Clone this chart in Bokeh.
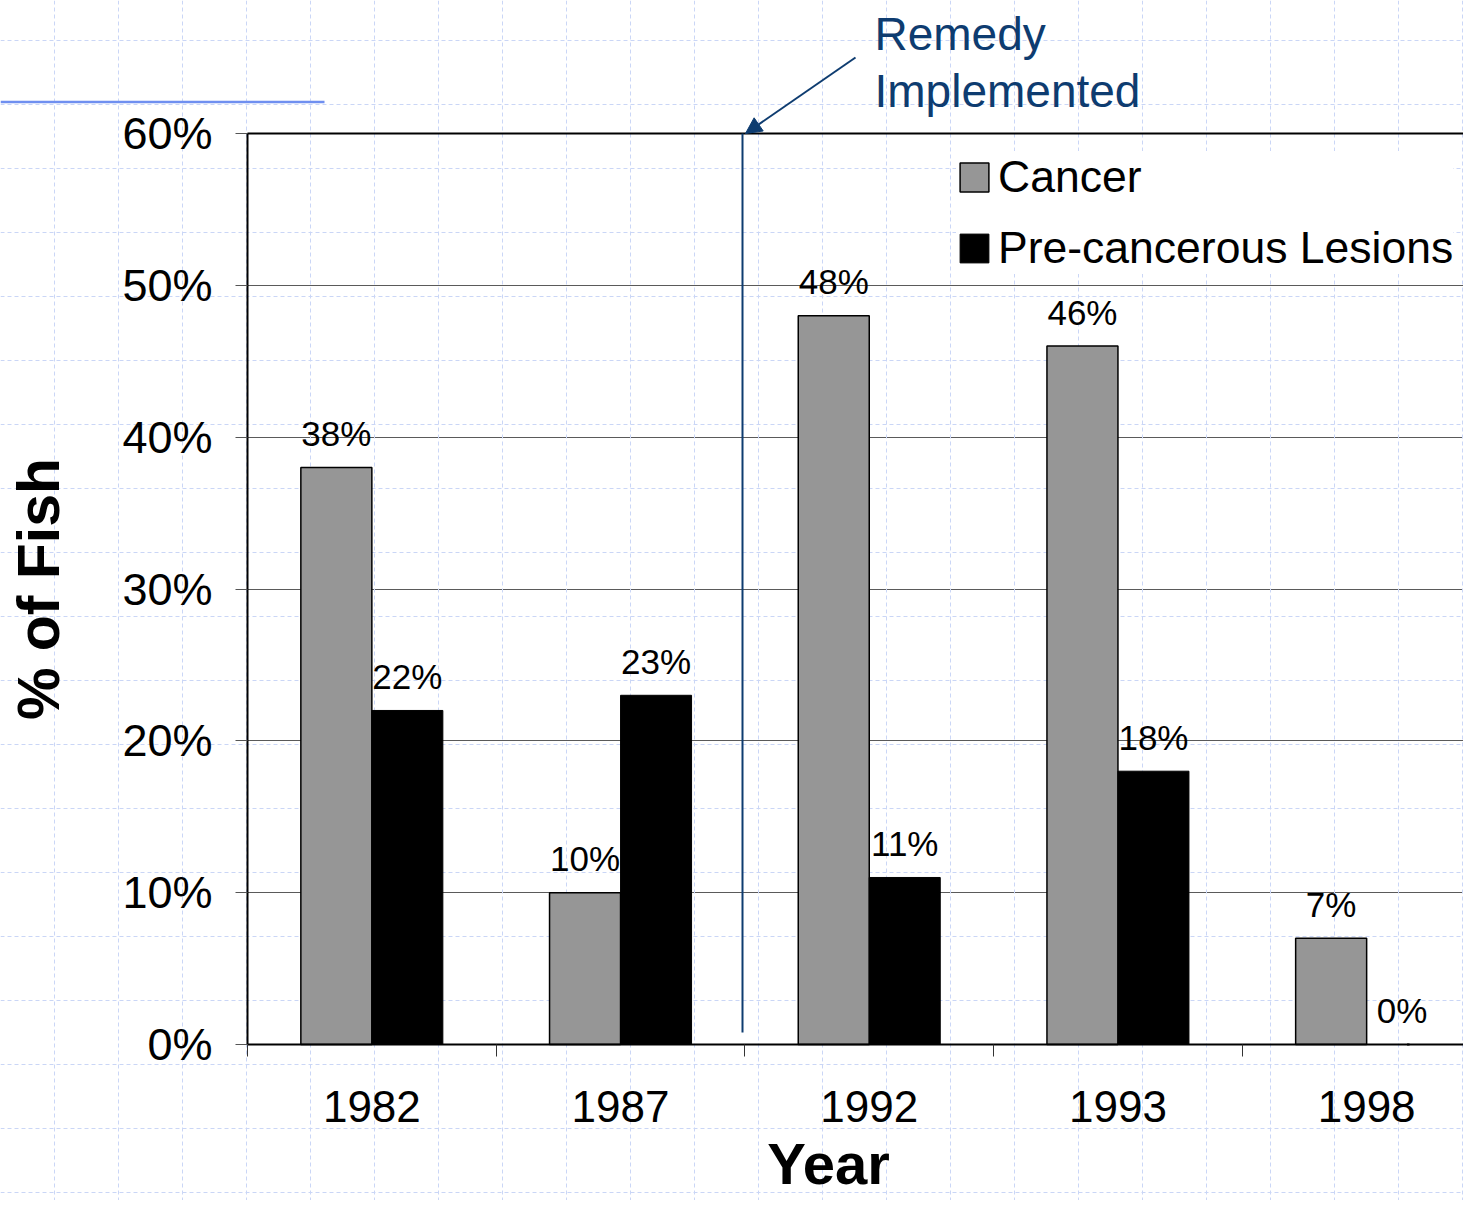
from bokeh.plotting import figure
from bokeh.models import Range1d, FixedTicker, Label, Arrow, NormalHead, ColumnDataSource
from bokeh.core.properties import value
from bokeh.embed import file_html
from bokeh.resources import INLINE

# ---- data ----
years = ["1982", "1987", "1992", "1993", "1998"]
cancer = [38, 10, 48, 46, 7]
lesions = [22, 23, 11, 18, 0]
y_ticks = [0, 10, 20, 30, 40, 50, 60]
y_tick_labels = ["0%", "10%", "20%", "30%", "40%", "50%", "60%"]

# ---- layout (pixels) ----
W, H = 1463, 1200
PX_X0 = 247      # pixel of x = 0 (left axis)
PX_Y0 = 1044     # pixel of y = 0 (bottom axis)
PX_YTOP = 133    # pixel of y = 60
CAT_PX = 248.7   # pixel width of one category
Y_MAX = 60
YPX = (PX_Y0 - PX_YTOP) / Y_MAX
NAVY = "#0e3c70"
GRID_C = "#cad6f6"
FONT = "Liberation Sans"


def dx(px):  # canvas x pixel -> data x
    return (px - PX_X0) / CAT_PX


def dy(py):  # canvas y pixel -> data y
    return (PX_Y0 - py) / YPX


X_END = dx(W)

p = figure(width=W, height=H, x_range=Range1d(dx(0), X_END), y_range=Range1d(dy(H), dy(0)),
           output_backend="svg", toolbar_location=None, title=None,
           min_border_left=0, min_border_right=0, min_border_top=0, min_border_bottom=0)
p.outline_line_color = None
p.background_fill_color = "white"
p.border_fill_color = "white"
p.xgrid.visible = False

# background slide grid (drawn first, underneath everything)
for X in range(54, 1480, 64):
    p.add_layout(Arrow(end=None, x_start=dx(X), y_start=dy(0), x_end=dx(X), y_end=dy(1216),
                       line_color=GRID_C, line_width=1, line_dash="4 3", level="underlay"))
for Y in range(40, 1217, 64):
    p.add_layout(Arrow(end=None, x_start=dx(0), y_start=dy(Y), x_end=dx(1479), y_end=dy(Y),
                       line_color=GRID_C, line_width=1, line_dash="4 3", level="underlay"))

# horizontal value grid lines
g = p.ygrid[0]
g.ticker = FixedTicker(ticks=y_ticks[1:-1])
g.grid_line_color = "#5a5a5a"
g.grid_line_width = 1
if "cross_bounds" in g.properties():
    g.cross_bounds = (0, X_END)
else:
    g.visible = False
    for t in y_ticks[1:-1]:
        p.add_layout(Arrow(end=None, x_start=0, y_start=t, x_end=X_END, y_end=t,
                           line_color="#5a5a5a", line_width=1, level="underlay"))

# y axis
p.yaxis.fixed_location = 0
p.yaxis.bounds = (0, Y_MAX)
p.yaxis.ticker = FixedTicker(ticks=y_ticks)
p.yaxis.major_label_overrides = dict(zip(y_ticks, y_tick_labels))
p.yaxis.axis_line_color = "black"
p.yaxis.axis_line_width = 2
p.yaxis.major_tick_out = 12
p.yaxis.major_tick_in = 0
p.yaxis.major_tick_line_color = "#555555"
p.yaxis.minor_tick_line_color = None
p.yaxis.major_label_text_font = FONT
p.yaxis.major_label_text_font_size = "45px"
p.yaxis.major_label_text_color = "black"
p.yaxis.major_label_standoff = 23
p.yaxis.axis_label = "% of Fish"
p.yaxis.axis_label_text_font = FONT
p.yaxis.axis_label_text_font_size = "59px"
p.yaxis.axis_label_text_font_style = "bold"
p.yaxis.axis_label_text_color = "black"
p.yaxis.axis_label_standoff = 47

# x axis (bounds chosen so that the title sits where the reference has it;
# the rest of the axis line is continued below)
xc = [i + 0.5 for i in range(len(years))]
X_AXIS_END = 2 * dx(828)
p.xaxis.fixed_location = 0
p.xaxis.bounds = (0, X_AXIS_END)
p.xaxis.ticker = FixedTicker(ticks=xc, minor_ticks=list(range(len(years) + 1)))
p.xaxis.major_label_overrides = dict(zip(xc, years))
p.xaxis.axis_line_color = "black"
p.xaxis.axis_line_width = 2
p.xaxis.major_tick_line_color = None
p.xaxis.major_tick_out = 0
p.xaxis.major_tick_in = 0
p.xaxis.minor_tick_out = 12
p.xaxis.minor_tick_in = 0
p.xaxis.minor_tick_line_color = "#333333"
p.xaxis.major_label_text_font = FONT
p.xaxis.major_label_text_font_size = "44px"
p.xaxis.major_label_text_color = "black"
p.xaxis.major_label_standoff = 34
p.xaxis.axis_label = "Year"
p.xaxis.axis_label_text_font = FONT
p.xaxis.axis_label_text_font_size = "58px"
p.xaxis.axis_label_text_font_style = "bold"
p.xaxis.axis_label_text_color = "black"
p.xaxis.axis_label_standoff = 6
p.add_layout(Arrow(end=None, x_start=X_AXIS_END - 0.01, y_start=0, x_end=X_END, y_end=0,
                   line_color="black", line_width=2))

# top frame border
p.add_layout(Arrow(end=None, x_start=0, y_start=Y_MAX, x_end=X_END, y_end=Y_MAX,
                   line_color="black", line_width=2))

# bars
BW = 71 / CAT_PX
src = ColumnDataSource(dict(
    xa=[c - BW / 2 for c in xc], xb=[c + BW / 2 for c in xc],
    cancer=cancer, lesions=lesions,
    lc=[f"{v}%" for v in cancer], ll=[f"{v}%" for v in lesions]))
p.vbar(x="xa", top="cancer", width=BW, source=src, fill_color="#969696",
       line_color="black", line_width=1.5, legend_label="Cancer")
p.vbar(x="xb", top="lesions", width=BW, source=src, fill_color="black",
       line_color="black", line_width=1, legend_label="Pre-cancerous Lesions")
for xcol, ycol, tcol in (("xa", "cancer", "lc"), ("xb", "lesions", "ll")):
    p.text(x=xcol, y=ycol, text=tcol, source=src, text_align="center",
           text_baseline="alphabetic", y_offset=-34, text_font=value(FONT),
           text_font_size="35px", text_color="black")

# remedy marker
REMEDY_X = dx(742)
p.add_layout(Arrow(end=None, x_start=REMEDY_X, y_start=dy(133), x_end=REMEDY_X, y_end=dy(1032),
                   line_color=NAVY, line_width=2))
p.add_layout(Arrow(end=NormalHead(size=16, fill_color=NAVY, line_color=NAVY),
                   x_start=dx(855), y_start=dy(57), x_end=dx(745), y_end=dy(133),
                   line_color=NAVY, line_width=2))
p.add_layout(Label(x=dx(874), y=dy(33), text="Remedy", text_font=FONT, text_font_size="46px",
                   text_color=NAVY, text_baseline="alphabetic"))
p.add_layout(Label(x=dx(874), y=dy(90), text="Implemented", text_font=FONT, text_font_size="46px",
                   text_color=NAVY, text_baseline="alphabetic"))

# slide decoration line
p.add_layout(Arrow(end=None, x_start=dx(0), y_start=dy(101.5), x_end=dx(324), y_end=dy(101.5),
                   line_color="#6f8ff0", line_width=2.5))

# legend
lg = p.legend[0]
lg.location = (956, 926)
lg.glyph_width = 36
lg.glyph_height = 36
lg.label_height = 52
lg.label_standoff = 6
lg.label_text_font = FONT
lg.label_text_font_size = "44.5px"
lg.label_text_color = "black"
lg.padding = 13
lg.spacing = 19
lg.margin = 0
lg.background_fill_color = "white"
lg.background_fill_alpha = 1
lg.border_line_color = None

open("out.html", "w").write(file_html(p, INLINE))
